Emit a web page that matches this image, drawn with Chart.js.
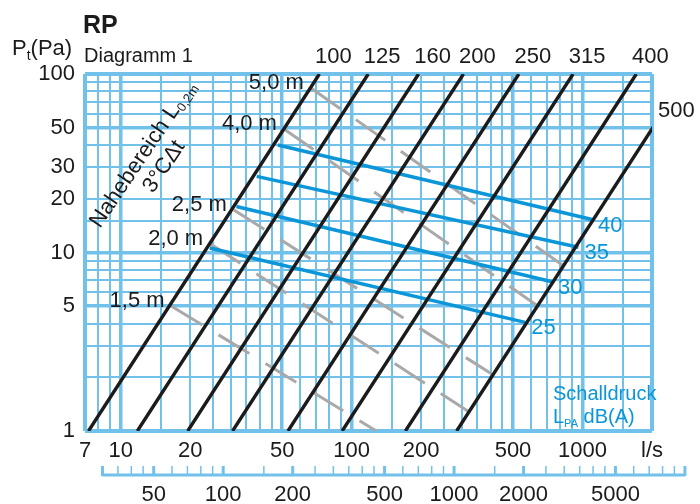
<!DOCTYPE html>
<html>
<head>
<meta charset="utf-8">
<script src="https://cdn.jsdelivr.net/npm/chart.js@4.4.1/dist/chart.umd.min.js"></script>
<style>
html, body { margin: 0; padding: 0; background: #fff; }
#wrap { width: 700px; height: 504px; }
</style>
</head>
<body>
<div id="wrap"><canvas id="canva" width="700" height="504"></canvas></div>
<script>
// diffuser sizes: each black line runs from (flow at 1 Pa) to (flow at 100 Pa)
var sizes = ["100", "125", "160", "200", "250", "315", "400", "500"];
var flowAt1Pa = [7.25, 11.8, 19.5, 30.5, 53, 91, 171, 285];
var flowAt100Pa = [72.5, 118, 195, 305, 530, 910, 1710, 2850];

// sound pressure lines LPA dB(A)
var soundLevels = ["40", "35", "30", "25"];
var soundStartFlow = [47.9, 38.8, 31.7, 24.3];
var soundStartPa = [40, 26.7, 18.1, 10.6];
var soundEndFlow = [1100, 960, 738, 565];
var soundEndPa = [15.3, 10.7, 6.86, 4.06];

// Nahbereich L0,2m (grey dashed)
var throwLabels = ["5,0 m", "4,0 m", "2,5 m", "2,0 m", "1,5 m"];
var throwStartFlow = [66.6, 50.9, 30.9, 24.4, 16.6];
var throwStartPa = [83.5, 49.2, 17.3, 11.2, 5.0];
var throwEndFlow = [818, 631, 403, 322, 128];
var throwEndPa = [8.51, 5.08, 2.09, 1.28, 1];

// axes
var xGrid = [7, 8, 9, 10, 15, 20, 25, 30, 35, 40, 45, 50, 60, 70, 80, 90, 100, 150, 200, 250, 300, 350, 400, 450, 500, 600, 700, 800, 900, 1000, 1500, 2000];
var xMajor = [10, 50, 100, 500, 1000];
var xTickLabels = {7: "7", 10: "10", 20: "20", 50: "50", 100: "100", 200: "200", 500: "500", 1000: "1000", 2000: "l/s"};
var yGrid = [1, 2, 3, 4, 5, 6, 7, 8, 9, 10, 15, 20, 30, 40, 50, 60, 70, 80, 90, 100];
var yMajor = [5, 10, 50];
var yTickLabels = [1, 5, 10, 20, 30, 50, 100];
var m3hTicks = [30, 35, 40, 45, 50, 60, 70, 80, 90, 100, 150, 200, 250, 300, 350, 400, 450, 500, 600, 700, 800, 900, 1000, 1500, 2000, 2500, 3000, 3500, 4000, 4500, 5000, 6000, 7000, 8000, 9000, 10000];
var m3hLabels = [50, 100, 200, 500, 1000, 2000, 5000];

var black = "#1b1b1b";
var blue = "#0a96d8";
var grey = "#a9a9a9";
var gridColor = "#72c1ea";
var FONT = "'Liberation Sans', Arial, sans-serif";

Chart.defaults.font.family = FONT;
Chart.defaults.color = black;

var datasets = [];
sizes.forEach(function(s, i) {
  datasets.push({
    label: s,
    data: [{x: flowAt1Pa[i], y: 1}, {x: flowAt100Pa[i], y: 100}],
    borderColor: black, borderWidth: 3.4, order: 0
  });
});
soundLevels.forEach(function(s, i) {
  datasets.push({
    label: "LPA " + s,
    data: [{x: soundStartFlow[i], y: soundStartPa[i]}, {x: soundEndFlow[i], y: soundEndPa[i]}],
    borderColor: blue, borderWidth: 3.5, order: 1
  });
});
throwLabels.forEach(function(s, i) {
  datasets.push({
    label: s,
    data: [{x: throwStartFlow[i], y: throwStartPa[i]}, {x: throwEndFlow[i], y: throwEndPa[i]}],
    borderColor: grey, borderWidth: 3, borderDash: [36, 19], order: 2
  });
});

function txt(ctx, s, x, y, font, color, align) {
  ctx.font = font;
  ctx.fillStyle = color || black;
  ctx.textAlign = align || "left";
  ctx.fillText(s, x, y);
}

function parts(ctx, list, x, y, color) {
  var cx = x;
  ctx.textAlign = "left";
  ctx.fillStyle = color || black;
  list.forEach(function(p) {
    ctx.font = p.font;
    ctx.fillText(p.t, cx, y + (p.dy || 0));
    cx += ctx.measureText(p.t).width;
  });
}

var extras = {
  id: "extras",
  afterDraw: function(chart) {
    var ctx = chart.ctx, xs = chart.scales.x, ys = chart.scales.y, x2 = chart.scales.x2;
    var area = chart.chartArea;
    ctx.save();
    ctx.textBaseline = "alphabetic";

    // titles
    txt(ctx, "RP", 83, 33, "bold 25px " + FONT);
    parts(ctx, [
      {t: "P", font: "22px " + FONT},
      {t: "t", font: "14px " + FONT, dy: 5},
      {t: "(Pa)", font: "22px " + FONT}
    ], 12, 55);
    txt(ctx, "Diagramm 1", 84, 62, "20px " + FONT);

    // size labels at the top end of each black line
    ctx.textBaseline = "middle";
    sizes.forEach(function(s, i) {
      var px = xs.getPixelForValue(flowAt100Pa[i]);
      if (px <= area.right) {
        txt(ctx, s, px + 14, 57, "22px " + FONT, black, "center");
      } else {
        // line leaves through the right border
        var lp = Math.log10(flowAt1Pa[i]), lq = Math.log10(flowAt100Pa[i]);
        var t = (Math.log10(xs.max) - lp) / (lq - lp);
        var py = ys.getPixelForValue(Math.pow(10, 2 * t));
        txt(ctx, s, area.right + 6, py - 18, "22px " + FONT, black, "left");
      }
    });

    // throw distance labels
    throwLabels.forEach(function(s, i) {
      var px = xs.getPixelForValue(throwStartFlow[i]);
      var py = ys.getPixelForValue(throwStartPa[i]);
      txt(ctx, s, px - 7, py - 5, "22px " + FONT, black, "right");
    });

    // sound level labels
    soundLevels.forEach(function(s, i) {
      var px = xs.getPixelForValue(soundEndFlow[i]);
      var py = ys.getPixelForValue(soundEndPa[i]);
      txt(ctx, s, px + 6, py + 6, "22px " + FONT, blue, "left");
    });

    ctx.textBaseline = "alphabetic";
    txt(ctx, "Schalldruck", 553, 400, "20px " + FONT, blue);
    parts(ctx, [
      {t: "L", font: "20px " + FONT},
      {t: "PA", font: "11px " + FONT, dy: 4},
      {t: " dB(A)", font: "20px " + FONT}
    ], 553, 423, blue);

    // rotated note
    var ang = -56 * Math.PI / 180;
    ctx.save();
    ctx.translate(100, 229);
    ctx.rotate(ang);
    parts(ctx, [
      {t: "Nahebereich L", font: "22px " + FONT},
      {t: "0,2m", font: "13px " + FONT, dy: 4}
    ], 0, 0);
    ctx.restore();
    ctx.save();
    ctx.translate(153, 194);
    ctx.rotate(ang);
    parts(ctx, [{t: "3°CΔt", font: "22px " + FONT}], 0, 0);
    ctx.restore();

    // secondary flow axis in m3/h
    var y0 = x2.top + 4;
    ctx.strokeStyle = gridColor;
    ctx.lineWidth = 3;
    ctx.beginPath();
    ctx.moveTo(x2.getPixelForValue(m3hTicks[0]), y0);
    ctx.lineTo(x2.getPixelForValue(m3hTicks[m3hTicks.length - 1]), y0);
    ctx.stroke();
    m3hTicks.forEach(function(v, i) {
      var px = x2.getPixelForValue(v);
      var major = m3hLabels.indexOf(v) >= 0 || i === 0 || i === m3hTicks.length - 1;
      ctx.lineWidth = major ? 3 : 1.5;
      ctx.beginPath();
      ctx.moveTo(px, y0 + 1);
      ctx.lineTo(px, y0 - 9);
      ctx.stroke();
    });
    ctx.restore();
  }
};

var ctx = document.getElementById("canva").getContext("2d");
var config = {
  type: "line",
  data: { datasets: datasets },
  options: {
    responsive: false,
    animation: false,
    devicePixelRatio: 1,
    layout: { padding: { top: 74, right: 48, left: 0, bottom: 0 } },
    elements: { point: { radius: 0 }, line: { tension: 0, fill: false } },
    plugins: { legend: { display: false }, tooltip: { enabled: false }, title: { display: false } },
    scales: {
      x: {
        type: "logarithmic", position: "bottom", min: 7, max: 2000,
        afterBuildTicks: function(s) { s.ticks = xGrid.map(function(v) { return {value: v}; }); },
        afterFit: function(s) { s.height = 40; },
        border: { display: false },
        grid: {
          drawTicks: false, color: gridColor,
          lineWidth: function(c) {
            var v = c.tick ? c.tick.value : 0;
            if (v === 7 || v === 2000) return 4;
            return xMajor.indexOf(v) >= 0 ? 3.5 : 2;
          }
        },
        ticks: {
          autoSkip: false, maxRotation: 0, padding: 7, color: black,
          font: { size: 22 },
          callback: function(v) { return xTickLabels[v] || ""; }
        }
      },
      x2: {
        type: "logarithmic", position: "bottom", min: 7 * 3.6, max: 2000 * 3.6,
        afterBuildTicks: function(s) { s.ticks = m3hLabels.map(function(v) { return {value: v}; }); },
        afterFit: function(s) { s.height = 33; },
        border: { display: false },
        grid: { display: false, drawTicks: false },
        ticks: {
          autoSkip: false, maxRotation: 0, padding: 11, color: black,
          font: { size: 22 },
          callback: function(v) { return String(v); }
        }
      },
      y: {
        type: "logarithmic", position: "left", min: 1, max: 100,
        afterBuildTicks: function(s) { s.ticks = yGrid.map(function(v) { return {value: v}; }); },
        afterFit: function(s) { s.width = 85; },
        border: { display: false },
        grid: {
          drawTicks: false, color: gridColor,
          lineWidth: function(c) {
            var v = c.tick ? c.tick.value : 0;
            if (v === 1 || v === 100) return 4;
            return yMajor.indexOf(v) >= 0 ? 3.5 : 2;
          }
        },
        ticks: {
          autoSkip: false, padding: 10, color: black,
          font: { size: 22 },
          callback: function(v) { return yTickLabels.indexOf(v) >= 0 ? String(v) : ""; }
        }
      }
    }
  },
  plugins: [extras]
};
new Chart(ctx, config);
</script>
</body>
</html>
